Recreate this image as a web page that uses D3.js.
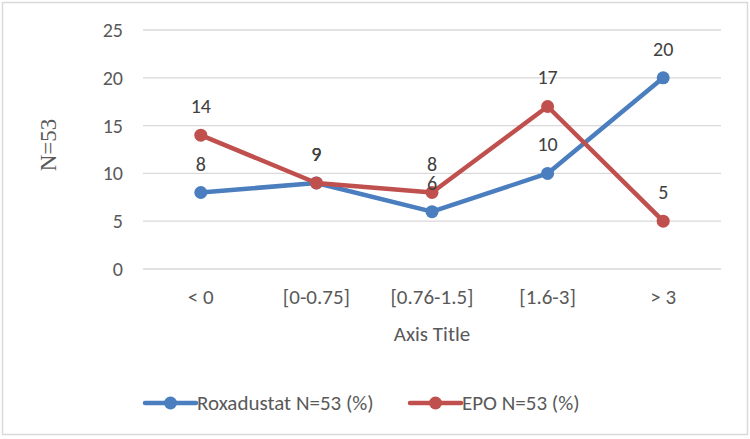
<!DOCTYPE html>
<html>
<head>
<meta charset="utf-8">
<script src="https://cdn.jsdelivr.net/npm/d3@7"></script>
<style>
  body { margin: 0; background: #fff; }
  svg { display: block; }
  text { font-family: Carlito, Calibri, Lato, "Open Sans", sans-serif; fill: #595959; }
</style>
</head>
<body>
<div id="chart"></div>
<script>
// Chart data
var categories = ['< 0', '[0-0.75]', '[0.76-1.5]', '[1.6-3]', '> 3']
var roxadustat = [8, 9, 6, 10, 20]
var epo = [14, 9, 8, 17, 5]
var yTicks = [0, 5, 10, 15, 20, 25]
var seriesNames = ['Roxadustat N=53 (%)', 'EPO N=53 (%)']
var colors = ['#4a7ebf', '#c0504d']

var width = 750
var height = 439
var plot = { left: 143, right: 721, top: 30, bottom: 269 }

var svg = d3.select('#chart').append('svg')
  .attr('width', width)
  .attr('height', height)

// outer frame
svg.append('rect')
  .attr('x', 2.5).attr('y', 2.5)
  .attr('width', 745).attr('height', 432)
  .attr('fill', '#fff')
  .attr('stroke', '#d9d9d9')
  .attr('stroke-width', 1.5)

var x = d3.scaleBand().domain(categories).range([plot.left, plot.right])
var y = d3.scaleLinear().domain([0, 25]).range([plot.bottom, plot.top])

// gridlines
svg.append('g')
  .selectAll('line')
  .data(yTicks)
  .join('line')
  .attr('x1', plot.left).attr('x2', plot.right)
  .attr('y1', d => y(d)).attr('y2', d => y(d))
  .attr('stroke', '#d9d9d9')
  .attr('stroke-width', 1.3)

// y tick labels
svg.append('g')
  .selectAll('text')
  .data(yTicks)
  .join('text')
  .attr('x', 123)
  .attr('y', d => y(d))
  .attr('dy', '0.35em')
  .attr('text-anchor', 'end')
  .style('font-size', '20px')
  .text(d => d)

// x tick labels
svg.append('g')
  .selectAll('text')
  .data(categories)
  .join('text')
  .attr('x', d => x(d) + x.bandwidth() / 2)
  .attr('y', 297)
  .attr('dy', '0.35em')
  .attr('text-anchor', 'middle')
  .style('font-size', '21px')
  .text(d => d)

// axis titles
svg.append('text')
  .attr('x', (plot.left + plot.right) / 2)
  .attr('y', 334)
  .attr('dy', '0.35em')
  .attr('text-anchor', 'middle')
  .style('font-size', '21px')
  .text('Axis Title')

svg.append('text')
  .attr('transform', 'translate(48,145) rotate(-90)')
  .attr('dy', '0.35em')
  .attr('text-anchor', 'middle')
  .style('font-family', '"Liberation Serif", "DejaVu Serif", serif')
  .style('font-size', '23px')
  .text('N=53')

var line = d3.line()
  .x((d, i) => x(categories[i]) + x.bandwidth() / 2)
  .y(d => y(d))

var allSeries = [roxadustat, epo]

allSeries.forEach(function (values, s) {
  var g = svg.append('g')
  g.append('path')
    .datum(values)
    .attr('d', line)
    .attr('fill', 'none')
    .attr('stroke', colors[s])
    .attr('stroke-width', 4.5)
    .attr('stroke-linejoin', 'round')
  g.selectAll('circle')
    .data(values)
    .join('circle')
    .attr('cx', (d, i) => x(categories[i]) + x.bandwidth() / 2)
    .attr('cy', d => y(d))
    .attr('r', 6.5)
    .attr('fill', colors[s])
})

// data labels
allSeries.forEach(function (values) {
  svg.append('g')
    .selectAll('text')
    .data(values)
    .join('text')
    .attr('x', (d, i) => x(categories[i]) + x.bandwidth() / 2)
    .attr('y', d => y(d) - 29)
    .attr('dy', '0.35em')
    .attr('text-anchor', 'middle')
    .style('font-size', '20px')
    .style('fill', '#404040')
    .text(d => d)
})

// legend
var legendItems = [
  { name: seriesNames[0], color: colors[0], x: 145 },
  { name: seriesNames[1], color: colors[1], x: 410 }
]
var lg = svg.append('g').selectAll('g')
  .data(legendItems)
  .join('g')
  .attr('transform', d => 'translate(' + d.x + ',403)')
lg.append('line')
  .attr('x1', 0).attr('x2', 51)
  .attr('y1', 0).attr('y2', 0)
  .attr('stroke', d => d.color)
  .attr('stroke-width', 4.5)
  .attr('stroke-linecap', 'round')
lg.append('circle')
  .attr('cx', 25.5).attr('cy', 0).attr('r', 6.5)
  .attr('fill', d => d.color)
lg.append('text')
  .attr('x', 52)
  .attr('dy', '0.35em')
  .style('font-size', '21px')
  .text(d => d.name)
</script>
</body>
</html>
